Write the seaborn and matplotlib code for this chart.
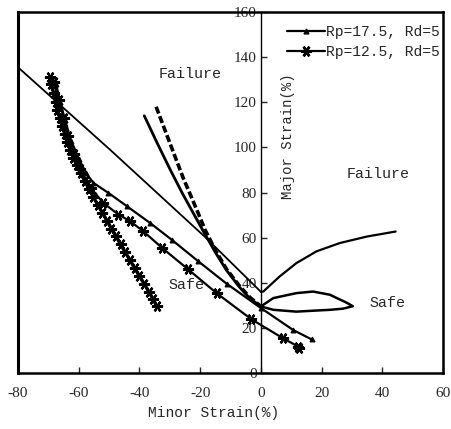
import matplotlib
matplotlib.use("Agg")
import matplotlib.pyplot as plt
from matplotlib.lines import Line2D
import seaborn as sns
import pandas as pd

# ---------------- data ----------------
x_ticks = [-80, -60, -40, -20, 0, 20, 40, 60]
y_ticks = [0, 20, 40, 60, 80, 100, 120, 140, 160]
legend_labels = ["Rp=17.5, Rd=5", "Rp=12.5, Rd=5"]

# straight reference line (left) + right-hand limit curve
lineA_x = [-80, -49.7, -18.4, 0]
lineA_y = [135.5, 99, 60.3, 36]
right_x = [0, 0.8, 6.2, 11.7, 18.3, 26, 35, 44.4]
right_y = [36, 36.1, 42.8, 48.7, 53.9, 57.6, 60.5, 62.7]

# lens-shaped "safe" curve
lens_x = [0, 4.1, 11.7, 17.2, 22.7, 28.2, 30.3, 27, 22.7, 11.7, 4.1, 0]
lens_y = [29.5, 33.2, 35.4, 36.1, 34.7, 31.2, 29.6, 28.5, 28, 27.2, 28, 29.5]

# thick solid and dashed curves from top
c1_x = [-38.4, -34, -30, -26, -21.7, -18.4, -15, -11.3, -7, -3.6, 0]
c1_y = [114, 101.5, 90.5, 80, 69.5, 61.5, 53.5, 45.5, 38, 33, 29.5]
c2_x = [-34.5, -30, -25.6, -21, -18.4, -15, -11.3, -7, -3.6, 0]
c2_y = [118, 102, 86.5, 72, 63.5, 54.5, 46, 38.5, 33.5, 29.5]

# series Rp=17.5 (small tick markers)
s1_x = [-67.5, -66, -64.5, -62.5, -60, -57.5, -55.2, -50.2, -44.2, -36.5,
        -29.4, -20.6, -11.3, 0, 10.6, 16.7]
s1_y = [128, 120, 112, 103, 95, 88.5, 84.3, 79.8, 74, 66.5,
        59.1, 49.5, 39.6, 28.8, 19.1, 14.9]

# series Rp=12.5 (asterisk markers)
s2_x = [-68, -66.5, -65, -63.5, -61.5, -59.5, -56, -52, -46.9, -43.1,
        -38.7, -32.5, -24, -14.6, -3.1, 7.3, 12.3, 12.6]
s2_y = [129, 121, 113, 105, 97, 90.2, 82, 75.5, 70.2, 67.3,
        62.8, 55.4, 46, 35.4, 23.8, 15.4, 11.7, 11.2]

# steep left curve of Rp=12.5 (dense asterisk markers)
s2b_x = [-69.5, -69, -68.3, -67.6, -67, -66.2, -65.4, -64.6, -63.7, -62.8,
         -61.8, -60.7, -59.4, -58, -56.6, -55.2, -53.7, -52.2, -50.7, -49.2,
         -47.7, -46.2, -44.7, -43.1, -41.6, -40, -38.4, -36.9, -35.6, -34.3]
s2b_y = [131, 128, 124, 120, 116.5, 113, 109.5, 106, 102.5, 99,
         95.5, 92, 88.5, 85, 81.5, 78, 74.5, 71, 67.5, 64,
         60.5, 57, 53.5, 50, 46.5, 43, 39.5, 36, 33, 29.5]

# ---------------- figure ----------------
sns.set_style("white")
plt.rcParams["font.family"] = ["Liberation Serif", "DejaVu Sans"]

fig = plt.figure(figsize=(4.51, 4.29), dpi=100)
ax = fig.add_axes([18 / 451, 1 - 373 / 429, 425 / 451, 361 / 429])

k = "black"
m_ast = (6, 2, 30)
m_tick = "^"

def draw(xs, ys, **kw):
    df = pd.DataFrame({"x": xs, "y": ys})
    sns.lineplot(data=df, x="x", y="y", sort=False, estimator=None,
                 color=k, ax=ax, legend=False, **kw)

draw(lineA_x, lineA_y, linewidth=1.3)
draw(right_x, right_y, linewidth=1.6)
draw(lens_x, lens_y, linewidth=1.8)
draw(c1_x, c1_y, linewidth=2.0)
draw(c2_x, c2_y, linewidth=2.6, linestyle=(0, (2.0, 0.8)))
draw(s1_x, s1_y, linewidth=1.6, marker=m_tick, markersize=3.5,
     markeredgewidth=0.8, markerfacecolor=k, markeredgecolor=k)
draw(s2_x, s2_y, linewidth=1.6, marker=m_ast, markersize=8,
     markeredgewidth=1.6, markeredgecolor=k)
draw(s2b_x, s2b_y, linewidth=2.4, marker=m_ast, markersize=8,
     markeredgewidth=1.6, markeredgecolor=k)

ax.set_xlim(-80, 60)
ax.set_ylim(0, 160)
ax.set_xticks(x_ticks)
ax.set_yticks(y_ticks)
ax.set_xticklabels([str(v) for v in x_ticks])
ax.set_yticklabels([str(v) for v in y_ticks])
ax.set_xlabel("")
ax.set_ylabel("")

for s in ["top", "right", "bottom", "left"]:
    ax.spines[s].set_visible(True)
    ax.spines[s].set_color(k)
    ax.spines[s].set_linewidth(1.8)
ax.spines["left"].set_position(("data", 0))
ax.spines["left"].set_linewidth(1.0)
ax.plot([-80, -80], [0, 160], color=k, linewidth=2.2, clip_on=False,
        solid_capstyle="projecting")

ax.tick_params(axis="x", direction="in", length=4, width=1, pad=10,
               labelsize=11, bottom=True)
ax.tick_params(axis="y", direction="in", length=4, width=1, pad=3,
               labelsize=11, left=True)

mono = ["Liberation Mono", "DejaVu Sans Mono"]
ax.text(-23.4, 132.4, "Failure", fontsize=10.8, family=mono, ha="center", va="center")
ax.text(38.5, 88, "Failure", fontsize=10.8, family=mono, ha="center", va="center")
ax.text(-24.4, 39, "Safe", fontsize=10.8, family=mono, ha="center", va="center")
ax.text(41.8, 31, "Safe", fontsize=10.8, family=mono, ha="center", va="center")
ax.text(8.9, 105, "Major Strain(%)", rotation=90, fontsize=10, family=mono,
        ha="center", va="center")
fig.text(214 / 451, 1 - 413 / 429, "Minor Strain(%)", fontsize=10.5, family=mono,
         ha="center", va="center")

handles = [
    Line2D([], [], color=k, linewidth=1.6, marker=m_tick, markersize=3.5,
           markerfacecolor=k),
    Line2D([], [], color=k, linewidth=1.6, marker=m_ast, markersize=8,
           markeredgewidth=1.8),
]
ax.legend(handles, legend_labels, loc="upper left",
          bbox_to_anchor=((287 - 18) / 425, (373 - 25) / 361),
          frameon=False, borderpad=0, borderaxespad=0, handlelength=2.6,
          handletextpad=0.1, labelspacing=0.4,
          prop={"family": mono, "size": 10.5})

fig.savefig("out.png", dpi=100)
